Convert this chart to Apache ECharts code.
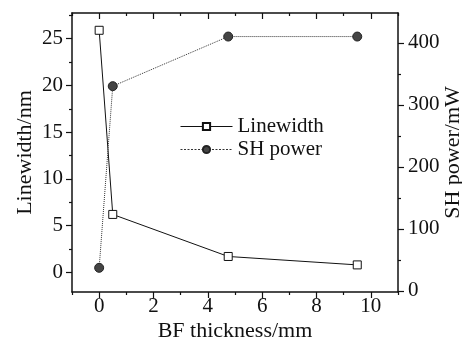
<!DOCTYPE html>
<html>
<head>
<meta charset="utf-8">
<script src="https://cdn.jsdelivr.net/npm/echarts@6/dist/echarts.min.js"></script>
<style>
  html, body { margin: 0; padding: 0; background: #fff; }
  #chart { width: 462px; height: 340px; }
</style>
</head>
<body>
<div id="chart"></div>
<script>
// data
const thickness = [0, 0.5, 4.75, 9.5];
const linewidth = [25.9, 6.2, 1.7, 0.8];
const shPower = [37, 330, 410, 410];

const xMajor = [0, 2, 4, 6, 8, 10];
const xMinor = [-1, 1, 3, 5, 7, 9, 11];
const leftMajor = [0, 5, 10, 15, 20, 25];
const leftMinor = [2.5, 7.5, 12.5, 17.5, 22.5, 27.5];
const rightMajor = [0, 100, 200, 300, 400];
const rightMinor = [50, 150, 250, 350];

const font = 'Liberation Serif';
const black = '#111';

const chart = echarts.init(document.getElementById('chart'));

// helper for extra axes that only carry ticks
function tickAxis(base, values, len, inside) {
  return Object.assign({
    type: 'value',
    axisLine: { show: false, onZero: false },
    axisTick: { show: true, inside: !!inside, length: len, customValues: values, lineStyle: { color: black, width: 1.2 } },
    axisLabel: { show: false },
    splitLine: { show: false }
  }, base);
}

const xRange = { min: -1, max: 11 };
const leftRange = { min: -2.1, max: 27.75 };
const rightRange = { min: -2, max: 448 };

chart.setOption({
  animation: false,
  grid: { left: 72, right: 64, top: 13, bottom: 48, containLabel: false, outerBoundsMode: 'none' },
  legend: {
    orient: 'vertical',
    left: 175,
    top: 111,
    itemWidth: 52,
    itemHeight: 9,
    itemGap: 2,
    textStyle: { fontFamily: font, fontSize: 21, color: black },
    data: [
      { name: 'Linewidth', lineStyle: { width: 1 } },
      { name: 'SH power', lineStyle: { width: 1, type: [2, 1.5], color: '#333' } }
    ]
  },
  xAxis: [
    {
      type: 'value', position: 'bottom', ...xRange,
      name: 'BF thickness/mm', nameLocation: 'middle', nameGap: 28, nameMoveOverlap: false,
      nameTextStyle: { fontFamily: font, fontSize: 22, color: black },
      axisLine: { show: true, onZero: false, lineStyle: { color: black, width: 1.5 } },
      axisTick: { show: true, length: 6, customValues: xMajor, lineStyle: { color: black, width: 1.2 } },
      axisLabel: { customValues: xMajor, margin: 4, fontFamily: font, fontSize: 21, color: black },
      splitLine: { show: false }
    },
    tickAxis({ position: 'bottom', ...xRange }, xMinor, 3),
    {
      type: 'value', position: 'top', ...xRange,
      axisLine: { show: true, onZero: false, lineStyle: { color: black, width: 1.5 } },
      axisTick: { show: true, inside: true, length: 6, customValues: xMajor, lineStyle: { color: black, width: 1.2 } },
      axisLabel: { show: false },
      splitLine: { show: false }
    },
    tickAxis({ position: 'top', ...xRange }, xMinor, 3, true)
  ],
  yAxis: [
    {
      type: 'value', position: 'left', ...leftRange,
      name: 'Linewidth/nm', nameLocation: 'middle', nameGap: 36, nameMoveOverlap: false,
      nameTextStyle: { fontFamily: font, fontSize: 22, color: black },
      axisLine: { show: true, onZero: false, lineStyle: { color: black, width: 1.5 } },
      axisTick: { show: true, length: 6, customValues: leftMajor, lineStyle: { color: black, width: 1.2 } },
      axisLabel: { customValues: leftMajor, margin: 9, fontFamily: font, fontSize: 21, color: black },
      splitLine: { show: false }
    },
    tickAxis({ position: 'left', ...leftRange }, leftMinor, 3),
    {
      type: 'value', position: 'right', ...rightRange,
      name: 'SH power/mW', nameLocation: 'middle', nameGap: 44, nameMoveOverlap: false,
      nameTextStyle: { fontFamily: font, fontSize: 22, color: black },
      axisLine: { show: true, onZero: false, lineStyle: { color: black, width: 1.5 } },
      axisTick: { show: true, length: 6, customValues: rightMajor, lineStyle: { color: black, width: 1.2 } },
      axisLabel: { customValues: rightMajor, margin: 10, fontFamily: font, fontSize: 21, color: black },
      splitLine: { show: false }
    },
    tickAxis({ position: 'right', ...rightRange }, rightMinor, 3)
  ],
  series: [
    {
      name: 'Linewidth',
      type: 'line',
      xAxisIndex: 0,
      yAxisIndex: 0,
      data: thickness.map((t, i) => [t, linewidth[i]]),
      symbol: 'rect',
      symbolSize: 8,
      lineStyle: { color: black, width: 1 },
      itemStyle: { color: '#fff', borderColor: black, borderWidth: 1 }
    },
    {
      name: 'SH power',
      type: 'line',
      xAxisIndex: 0,
      yAxisIndex: 2,
      data: thickness.map((t, i) => [t, shPower[i]]),
      symbol: 'circle',
      symbolSize: 9,
      lineStyle: { color: '#333', width: 1, type: 'dotted' },
      itemStyle: { color: '#444', borderColor: '#222', borderWidth: 1 }
    }
  ]
});
</script>
</body>
</html>
